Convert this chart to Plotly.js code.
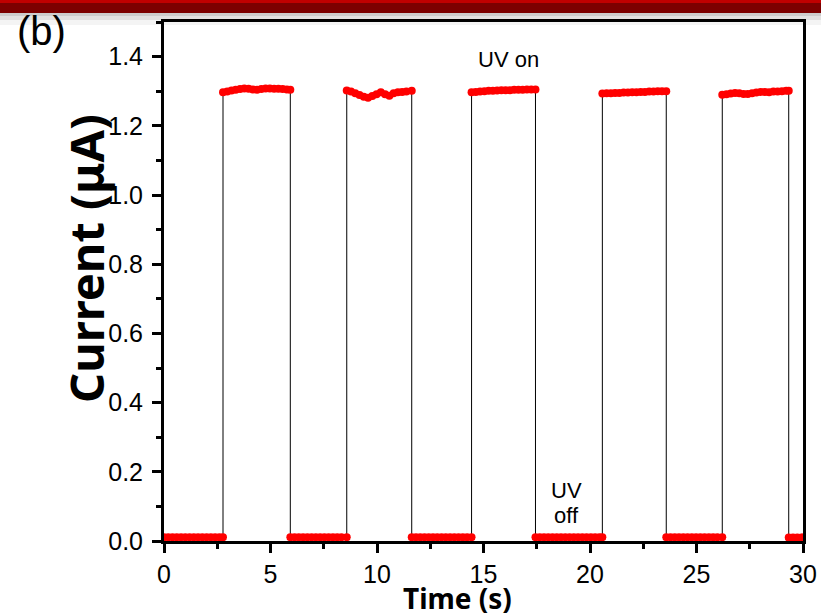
<!DOCTYPE html>
<html><head><meta charset="utf-8">
<script src="https://cdn.plot.ly/plotly-3.0.1.min.js"></script>
<style>html,body{margin:0;padding:0;background:#fff;} #chart{width:821px;height:613px;}</style>
</head><body><div id="chart"></div>
<script>
// Time (s) of each sample
const time = [
  0.0,0.2,0.4,0.6,0.8,1.0,1.2,1.4,1.6,1.8,2.0,2.2,2.4,2.6,2.77,
  2.77,2.97,3.17,3.37,3.57,3.77,3.97,4.17,4.37,4.57,4.77,4.97,5.17,5.37,5.57,5.77,5.93,
  5.93,6.13,6.33,6.53,6.73,6.93,7.13,7.33,7.53,7.73,7.93,8.13,8.33,8.58,
  8.58,8.78,8.98,9.18,9.38,9.58,9.78,9.98,10.18,10.38,10.58,10.78,10.98,11.18,11.38,11.63,
  11.63,11.83,12.03,12.23,12.43,12.63,12.83,13.03,13.23,13.43,13.63,13.83,14.03,14.23,14.44,
  14.44,14.64,14.84,15.04,15.24,15.44,15.64,15.84,16.04,16.24,16.44,16.64,16.84,17.04,17.24,17.44,
  17.44,17.64,17.84,18.04,18.24,18.44,18.64,18.84,19.04,19.24,19.44,19.64,19.84,20.04,20.24,20.44,20.58,
  20.58,20.78,20.98,21.18,21.38,21.58,21.78,21.98,22.18,22.38,22.58,22.78,22.98,23.18,23.38,23.58,
  23.58,23.78,23.98,24.18,24.38,24.58,24.78,24.98,25.18,25.38,25.58,25.78,25.98,26.21,
  26.21,26.41,26.61,26.81,27.01,27.21,27.41,27.61,27.81,28.01,28.21,28.41,28.61,28.81,29.01,29.21,29.33,
  29.33,29.53,29.73,29.93,30.0
];
// Current (µA) of each sample
const current = [
  0.011,0.011,0.011,0.011,0.011,0.011,0.011,0.011,0.011,0.011,0.011,0.011,0.011,0.011,0.011,
  1.297,1.299,1.302,1.304,1.306,1.308,1.307,1.305,1.304,1.306,1.308,1.308,1.307,1.307,1.306,1.305,1.304,
  0.011,0.011,0.011,0.011,0.011,0.011,0.011,0.011,0.011,0.011,0.011,0.011,0.011,0.011,
  1.302,1.299,1.294,1.289,1.284,1.281,1.286,1.291,1.297,1.291,1.287,1.294,1.297,1.298,1.299,1.301,
  0.011,0.011,0.011,0.011,0.011,0.011,0.011,0.011,0.011,0.011,0.011,0.011,0.011,0.011,0.011,
  1.297,1.298,1.299,1.300,1.301,1.301,1.302,1.303,1.303,1.303,1.304,1.304,1.304,1.305,1.305,1.305,
  0.011,0.011,0.011,0.011,0.011,0.011,0.011,0.011,0.011,0.011,0.011,0.011,0.011,0.011,0.011,0.011,0.011,
  1.293,1.294,1.294,1.295,1.295,1.296,1.296,1.297,1.297,1.298,1.298,1.299,1.299,1.300,1.300,1.300,
  0.011,0.011,0.011,0.011,0.011,0.011,0.011,0.011,0.011,0.011,0.011,0.011,0.011,0.011,
  1.290,1.291,1.293,1.295,1.294,1.292,1.292,1.294,1.296,1.298,1.298,1.297,1.299,1.299,1.300,1.301,1.301,
  0.010,0.010,0.010,0.010,0.010
];
const xTickValues = [0, 5, 10, 15, 20, 25, 30];
const yTickValues = [0.0, 0.2, 0.4, 0.6, 0.8, 1.0, 1.2, 1.4];
const panelLabel = "(b)";
const xTitle = "Time (s)";
const yTitle = "Current (μA)";
const uvOnLabel = "UV on";
const uvOffLabel = ["UV", "off"];
const uvOnPos = [16.15, 1.392];
const uvOffPos = [18.9, 0.146, 0.074];

const tickFont = {family: "Liberation Sans, Arial, sans-serif", size: 25, color: "#000"};
const noteFont = {family: "Liberation Sans, Arial, sans-serif", size: 22, color: "#000"};

const trace = {
  x: time, y: current, type: "scatter", mode: "lines+markers",
  line: {color: "#000", width: 1},
  marker: {color: "#ff0000", size: 8, line: {width: 0}},
  hoverinfo: "skip"
};

const axisCommon = {
  showgrid: false, zeroline: false, showline: true, linecolor: "#000", linewidth: 3,
  mirror: true, ticks: "outside", ticklen: 9, tickwidth: 3, tickcolor: "#000",
  tickfont: tickFont
};

const yPx = py => (541 - py) / 519;
const xPx = px => (px - 164) / 639;

const layout = {
  width: 821, height: 613,
  margin: {l: 164, r: 18, t: 22, b: 72},
  paper_bgcolor: "#fff", plot_bgcolor: "#fff",
  showlegend: false,
  xaxis: Object.assign({}, axisCommon, {
    range: [0, 30], tickvals: xTickValues, ticktext: xTickValues.map(String),
    minor: {dtick: 2.5, tick0: 0, ticks: "outside", ticklen: 5, tickwidth: 3, tickcolor: "#000"},
    ticklabelstandoff: 0
  }),
  yaxis: Object.assign({}, axisCommon, {
    range: [0, 1.5], tickvals: yTickValues, ticktext: yTickValues.map(v => v.toFixed(1)),
    minor: {dtick: 0.1, tick0: 0, ticks: "outside", ticklen: 5, tickwidth: 3, tickcolor: "#000"},
    ticklabelstandoff: 4
  }),
  shapes: [
    {type: "rect", xref: "paper", yref: "paper", x0: xPx(0), x1: xPx(821), y0: yPx(25), y1: yPx(13), fillcolor: "#f4f4f4", line: {width: 0}, layer: "below"},
    {type: "rect", xref: "paper", yref: "paper", x0: xPx(0), x1: xPx(821), y0: yPx(20), y1: yPx(13), fillcolor: "#e2e2e2", line: {width: 0}, layer: "below"},
    {type: "rect", xref: "paper", yref: "paper", x0: xPx(0), x1: xPx(821), y0: yPx(16), y1: yPx(13), fillcolor: "#cdcdcd", line: {width: 0}, layer: "below"},
    {type: "rect", xref: "paper", yref: "paper", x0: xPx(0), x1: xPx(821), y0: yPx(13), y1: yPx(3), fillcolor: "#7c0000", line: {width: 0}},
    {type: "rect", xref: "paper", yref: "paper", x0: xPx(0), x1: xPx(821), y0: yPx(3), y1: yPx(0), fillcolor: "#c00000", line: {width: 0}}
  ],
  annotations: [
    {text: panelLabel, xref: "paper", yref: "paper", x: xPx(15), y: yPx(31), xanchor: "left", yanchor: "middle", showarrow: false,
     font: {family: "Liberation Sans, Arial, sans-serif", size: 40, color: "#000"}},
    {text: uvOnLabel, xref: "x", yref: "y", x: uvOnPos[0], y: uvOnPos[1], showarrow: false, font: noteFont},
    {text: uvOffLabel[0], xref: "x", yref: "y", x: uvOffPos[0], y: uvOffPos[1], showarrow: false, font: noteFont},
    {text: uvOffLabel[1], xref: "x", yref: "y", x: uvOffPos[0], y: uvOffPos[2], showarrow: false, font: noteFont},
    {text: "<b>" + xTitle + "</b>", xref: "paper", yref: "paper", x: xPx(457), y: yPx(598), xanchor: "center", yanchor: "middle", showarrow: false,
     font: {family: "Noto Sans, sans-serif", size: 28, color: "#000"}},
    {text: "<b>" + yTitle + "</b>", xref: "paper", yref: "paper", x: xPx(86), y: yPx(259), xanchor: "center", yanchor: "middle", textangle: -90, showarrow: false,
     font: {family: "Noto Sans, sans-serif", size: 47, color: "#000"}}
  ]
};

Plotly.newPlot("chart", [trace], layout, {displayModeBar: false, staticPlot: true});
</script>
</body></html>
